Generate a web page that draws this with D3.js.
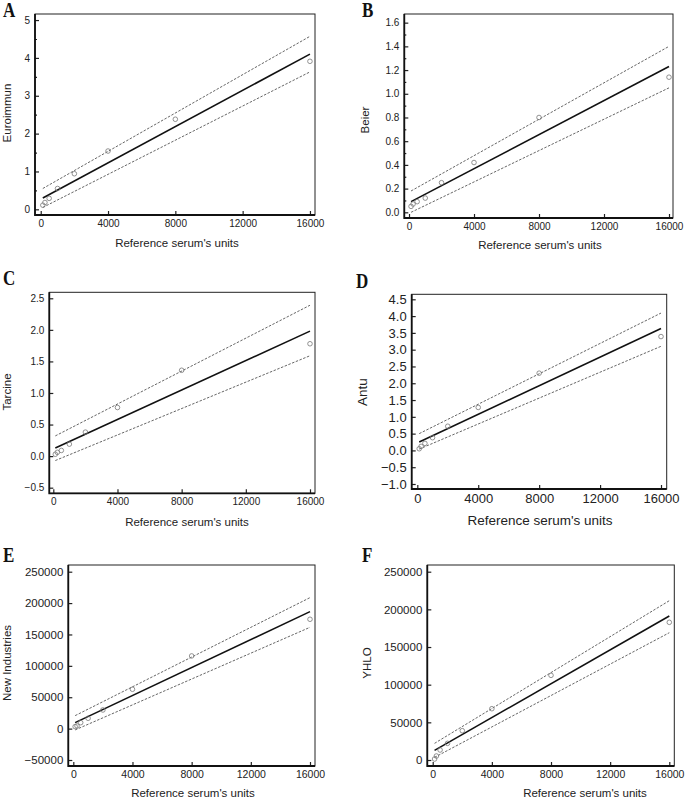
<!DOCTYPE html>
<html><head><meta charset="utf-8">
<script src="https://cdn.jsdelivr.net/npm/d3@7"></script>
<style>
body{margin:0;background:#fff;}
svg{display:block;}
text{font-family:"Liberation Sans",Arial,sans-serif;fill:#222;}
.title{font-family:"Liberation Serif","Times New Roman",serif;fill:#111;}
</style></head>
<body><svg id="c" width="685" height="799"></svg>
<script>
// ---- data ----
const xUnits = [125, 250, 500, 1000, 2000, 4000, 8000, 16000];
const panelLetters = ["A", "B", "C", "D", "E", "F"];
const yTitles = ["Euroimmun", "Beier", "Tarcine", "Antu", "New Industries", "YHLO"];
const xTitle = "Reference serum's units";
const xTickValues = [0, 4000, 8000, 12000, 16000];

const euroimmun = [0.11, 0.18, 0.29, 0.55, 0.94, 1.54, 2.38, 3.91];
const beier = [0.05, 0.07, 0.09, 0.12, 0.25, 0.42, 0.80, 1.14];
const tarcine = [0.03, 0.06, 0.09, 0.19, 0.38, 0.77, 1.36, 1.78];
const antu = [0.05, 0.12, 0.21, 0.38, 0.72, 1.28, 2.30, 3.39];
const newIndustries = [3200, 4250, 9500, 16500, 29700, 62700, 115800, 174200];
const yhlo = [1300, 5300, 13300, 22100, 38900, 68100, 112400, 182800];

// fitted line and confidence band ends, at x = 125 and x = 16000
const fitX = [125, 16000];
const fitA = [0.30, 4.10], upperA = [0.55, 4.57], lowerA = [0.05, 3.63];
const fitB = [0.09, 1.23], upperB = [0.18, 1.40], lowerB = [0.00, 1.05];
const fitC = [0.13, 1.98], upperC = [0.32, 2.39], lowerC = [-0.07, 1.59];
const fitD = [0.25, 3.63], upperD = [0.50, 4.09], lowerD = [0.04, 3.10];
const fitE = [9560, 186400], upperE = [20700, 208700], lowerE = [-2100, 161400];
const fitF = [12800, 191100], upperF = [22100, 211500], lowerF = [3500, 169000];

const yTicksA = [0, 1, 2, 3, 4, 5], yMinorA = [0.5, 1.5, 2.5, 3.5, 4.5];
const yTicksB = [0, 0.2, 0.4, 0.6, 0.8, 1.0, 1.2, 1.4, 1.6], yMinorB = [0.1, 0.3, 0.5, 0.7, 0.9, 1.1, 1.3, 1.5];
const yTicksC = [-0.5, 0, 0.5, 1.0, 1.5, 2.0, 2.5];
const yTicksD = [-1.0, -0.5, 0, 0.5, 1.0, 1.5, 2.0, 2.5, 3.0, 3.5, 4.0, 4.5];
const yTicksE = [-50000, 0, 50000, 100000, 150000, 200000, 250000];
const yTicksF = [0, 50000, 100000, 150000, 200000, 250000];

// ---- layout ----
const panels = [
  {values: euroimmun, fit: fitA, upper: upperA, lower: lowerA, yt: yTicksA, ym: yMinorA, fmt: d3.format("d"),
   box: [35, 315, 14, 215], xd: [-340, 16300], yd: [-0.15, 5.16], tf: 10, yf: 10, lf: 11.5,
   title: [3, 17], xl: [177, 247], yl: [11, 113]},
  {values: beier, fit: fitB, upper: upperB, lower: lowerB, yt: yTicksB, ym: yMinorB, fmt: d3.format(".1f"),
   box: [404.3, 673, 14, 218], xd: [-290, 16246], yd: [-0.048, 1.673], tf: 10, yf: 10, lf: 11.5,
   title: [362, 17], xl: [540, 249], yl: [369, 120]},
  {values: tarcine, fit: fitC, upper: upperC, lower: lowerC, yt: yTicksC, ym: [], fmt: d3.format(".1f"),
   box: [49.3, 315, 292.3, 493.3], xd: [-250, 16312], yd: [-0.589, 2.595], tf: 10, yf: 10, lf: 11.5,
   title: [3, 285], xl: [187, 526], yl: [11, 392]},
  {values: antu, fit: fitD, upper: upperD, lower: lowerD, yt: yTicksD, ym: [], fmt: d3.format(".1f"),
   box: [411.7, 666.7, 294.3, 489], xd: [-368, 16374], yd: [-1.149, 4.649], tf: 13, yf: 13, lf: 13.5,
   title: [356, 288], xl: [540, 525], yl: [367, 392]},
  {values: newIndustries, fit: fitE, upper: upperE, lower: lowerE, yt: yTicksE, ym: [], fmt: d3.format("d"),
   box: [68.3, 315, 565, 766], xd: [-338, 16338], yd: [-59560, 260675], tf: 10.5, yf: 11.5, lf: 11.5,
   title: [3, 562], xl: [193, 797], yl: [11, 663]},
  {values: yhlo, fit: fitF, upper: upperF, lower: lowerF, yt: yTicksF, ym: [], fmt: d3.format("d"),
   box: [427.3, 674.3, 565, 766], xd: [-366, 16338], yd: [-7966, 258895], tf: 10.5, yf: 11.5, lf: 11.5,
   title: [362, 562], xl: [585, 797], yl: [371, 663]}
];

const svg = d3.select("#c");

panels.forEach((p, i) => {
  const [L, R, T, B] = p.box;
  const x = d3.scaleLinear().domain(p.xd).range([L, R]);
  const y = d3.scaleLinear().domain(p.yd).range([B, T]);
  const g = svg.append("g");

  // axes (ticks inward)
  const ya = g.append("g").attr("transform", `translate(${L},0)`)
    .call(d3.axisLeft(y).tickValues(p.yt).tickFormat(p.fmt).tickSize(-4).tickPadding(5));
  ya.selectAll("text").style("font-size", p.yf + "px").attr("fill", "#222");
  if (p.ym.length) {
    g.append("g").attr("transform", `translate(${L},0)`)
      .call(d3.axisLeft(y).tickValues(p.ym).tickFormat("").tickSize(-2));
  }
  const xa = g.append("g").attr("transform", `translate(0,${B})`)
    .call(d3.axisBottom(x).tickValues(xTickValues).tickFormat(d3.format("d")).tickSize(-4).tickPadding(5));
  xa.selectAll("text").style("font-size", p.tf + "px").attr("fill", "#222");
  g.selectAll(".domain").remove();
  g.selectAll(".tick line").attr("stroke", "#222").attr("stroke-width", 1.2);

  // frame
  g.append("rect").attr("x", L).attr("y", T).attr("width", R - L).attr("height", B - T)
    .attr("fill", "none").attr("stroke", "#222").attr("stroke-width", 1);
  g.append("path").attr("d", `M${L},${T}V${B}H${R}`).attr("fill", "none")
    .attr("stroke", "#111").attr("stroke-width", 1.8);

  const line = d3.line().x(d => x(d[0])).y(d => y(d[1]));
  // bands
  [p.upper, p.lower].forEach(b => {
    g.append("path").attr("d", line(fitX.map((xv, k) => [xv, b[k]])))
      .attr("fill", "none").attr("stroke", "#555").attr("stroke-width", 0.9)
      .attr("stroke-dasharray", "2.5,1.5");
  });
  // fit
  g.append("path").attr("d", line(fitX.map((xv, k) => [xv, p.fit[k]])))
    .attr("fill", "none").attr("stroke", "#111").attr("stroke-width", 1.6);
  // points
  g.selectAll("circle.pt").data(xUnits.map((xv, k) => [xv, p.values[k]])).enter()
    .append("circle").attr("class", "pt")
    .attr("cx", d => x(d[0])).attr("cy", d => y(d[1])).attr("r", 2.3)
    .attr("fill", "none").attr("stroke", "#777").attr("stroke-width", 0.8);

  // labels
  g.append("text").attr("class", "title")
    .attr("transform", `translate(${p.title[0]},${p.title[1]}) scale(0.85,1)`)
    .style("font-size", "20px").style("font-weight", "bold").text(panelLetters[i]);
  g.append("text").attr("x", p.xl[0]).attr("y", p.xl[1]).attr("text-anchor", "middle")
    .style("font-size", p.lf + "px").text(xTitle);
  g.append("text").attr("transform", `translate(${p.yl[0]},${p.yl[1]}) rotate(-90)`)
    .attr("text-anchor", "middle").style("font-size", p.lf + "px").text(yTitles[i]);
});
</script></body></html>
